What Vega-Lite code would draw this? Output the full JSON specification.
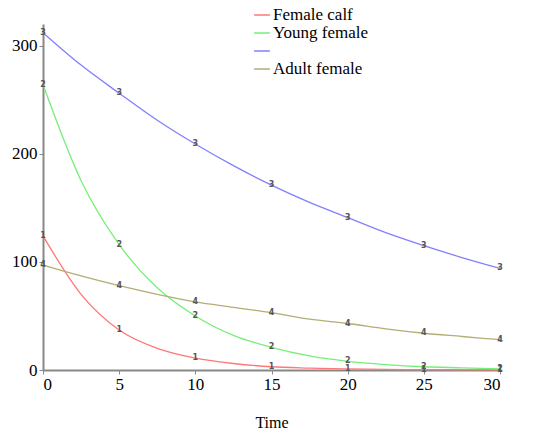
{
  "$schema": "https://vega.github.io/schema/vega-lite/v6.json",
  "width": 457,
  "height": 346,
  "autosize": {"type": "none"},
  "padding": {"left": 43, "top": 24, "right": 35, "bottom": 62},
  "background": "white",
  "config": {
    "view": {"stroke": null},
    "font": "Liberation Serif",
    "style": {
      "guide-label": {"font": "Liberation Serif", "fontSize": 17, "fill": "black"},
      "guide-title": {"font": "Liberation Serif", "fontSize": 16, "fontWeight": "normal", "fill": "black"}
    },
    "axis": {"labelFont": "Liberation Serif", "titleFont": "Liberation Serif"},
    "legend": {"labelFont": "Liberation Serif"}
  },
  "data": {
    "values": [
      {"s": "1", "t": 0, "v": 124}, {"s": "1", "t": 2.5, "v": 70}, {"s": "1", "t": 5, "v": 37}, {"s": "1", "t": 7.5, "v": 20},
      {"s": "1", "t": 10, "v": 11}, {"s": "1", "t": 12.5, "v": 6}, {"s": "1", "t": 15, "v": 3}, {"s": "1", "t": 17.5, "v": 1.8},
      {"s": "1", "t": 20, "v": 1}, {"s": "1", "t": 25, "v": 0.3}, {"s": "1", "t": 30, "v": 0.1},
      {"s": "2", "t": 0, "v": 264}, {"s": "2", "t": 2.5, "v": 175}, {"s": "2", "t": 5, "v": 116}, {"s": "2", "t": 7.5, "v": 76},
      {"s": "2", "t": 10, "v": 50}, {"s": "2", "t": 12.5, "v": 32}, {"s": "2", "t": 15, "v": 21}, {"s": "2", "t": 17.5, "v": 13},
      {"s": "2", "t": 20, "v": 8}, {"s": "2", "t": 22.5, "v": 5}, {"s": "2", "t": 25, "v": 3}, {"s": "2", "t": 27.5, "v": 2}, {"s": "2", "t": 30, "v": 1},
      {"s": "3", "t": 0, "v": 312}, {"s": "3", "t": 2.5, "v": 282}, {"s": "3", "t": 5, "v": 256}, {"s": "3", "t": 7.5, "v": 231},
      {"s": "3", "t": 10, "v": 209}, {"s": "3", "t": 12.5, "v": 189}, {"s": "3", "t": 15, "v": 171}, {"s": "3", "t": 17.5, "v": 155},
      {"s": "3", "t": 20, "v": 141}, {"s": "3", "t": 22.5, "v": 127}, {"s": "3", "t": 25, "v": 115}, {"s": "3", "t": 27.5, "v": 104}, {"s": "3", "t": 30, "v": 94},
      {"s": "4", "t": 0, "v": 97}, {"s": "4", "t": 2.5, "v": 87}, {"s": "4", "t": 5, "v": 78}, {"s": "4", "t": 7.5, "v": 70},
      {"s": "4", "t": 10, "v": 63}, {"s": "4", "t": 12.5, "v": 58}, {"s": "4", "t": 15, "v": 53}, {"s": "4", "t": 17.5, "v": 47},
      {"s": "4", "t": 20, "v": 43}, {"s": "4", "t": 22.5, "v": 38}, {"s": "4", "t": 25, "v": 34}, {"s": "4", "t": 27.5, "v": 31}, {"s": "4", "t": 30, "v": 28}
    ]
  },
  "layer": [
    {
      "mark": {"type": "line", "interpolate": "monotone", "strokeWidth": 1.3},
      "encoding": {
        "x": {
          "field": "t", "type": "quantitative",
          "scale": {"domain": [0, 30], "nice": false},
          "axis": {
            "values": [0, 5, 10, 15, 20, 25, 30], "grid": false,
            "domainColor": "#888", "domainWidth": 2, "tickColor": "#888", "tickSize": 4,
            "labelFontSize": 17, "labelColor": "black", "labelPadding": 2, "labelFont": "Liberation Serif",
            "title": "Time", "titleFont": "Liberation Serif", "titleFontSize": 16, "titleFontWeight": "normal",
            "titleColor": "black", "titlePadding": 22
          }
        },
        "y": {
          "field": "v", "type": "quantitative",
          "scale": {"domain": [0, 320], "nice": false},
          "axis": {
            "values": [0, 100, 200, 300], "grid": false, "title": null,
            "domainColor": "#888", "domainWidth": 2, "tickColor": "#888", "tickSize": 4,
            "labelFontSize": 17, "labelColor": "black", "labelPadding": 2, "labelFont": "Liberation Serif"
          }
        },
        "color": {
          "field": "s", "type": "nominal",
          "scale": {"domain": ["1", "2", "3", "4"], "range": ["#ff7777", "#77ee77", "#8080ff", "#b2ae74"]},
          "legend": {
            "orient": "none", "legendX": 210, "legendY": -18, "title": null,
            "symbolType": "stroke", "symbolStrokeWidth": 1.5, "symbolSize": 250,
            "labelFontSize": 17, "labelColor": "black", "labelFont": "Liberation Serif",
            "rowPadding": 1, "labelOffset": 2, "padding": 0,
            "labelExpr": "datum.value == '1' ? 'Female calf' : datum.value == '2' ? 'Young female' : datum.value == '3' ? '' : 'Adult female'"
          }
        }
      }
    },
    {
      "transform": [{"filter": "datum.t % 5 == 0"}],
      "mark": {"type": "text", "fontSize": 8, "fontWeight": "bold", "color": "#555", "font": "DejaVu Sans"},
      "encoding": {
        "x": {"field": "t", "type": "quantitative"},
        "y": {"field": "v", "type": "quantitative"},
        "text": {"field": "s"}
      }
    }
  ]
}
